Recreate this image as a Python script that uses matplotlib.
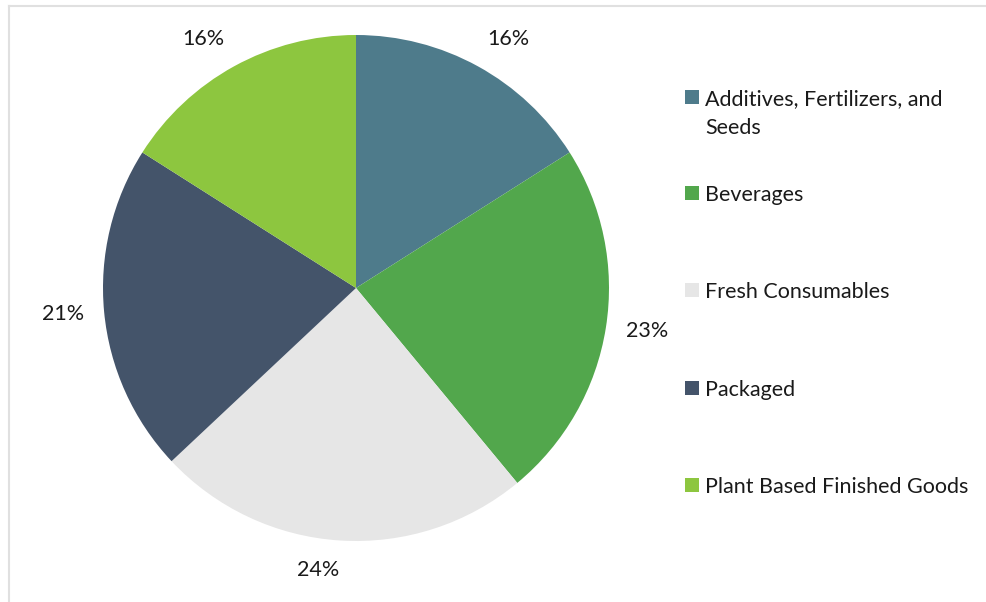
import numpy as np
import matplotlib.pyplot as plt
from matplotlib.patches import Rectangle
from matplotlib.lines import Line2D

categories = ['Additives, Fertilizers, and\nSeeds', 'Beverages', 'Fresh Consumables',
              'Packaged', 'Plant Based Finished Goods']
shares = [16, 23, 24, 21, 16]
colors = ['#4E7B8B', '#52A74C', '#E6E6E6', '#44546A', '#8DC63F']

plt.rcParams['font.family'] = ['Lato', 'DejaVu Sans']
FS = 15.5
TXT = '#1a1a1a'

fig = plt.figure(figsize=(9.87, 6.02), dpi=100)
W, H = 987, 602

# pie area: centre (356, 288), radius ~253 px
r = 253
ax = fig.add_axes([(356 - r) / W, 1 - (288 + r) / H, 2 * r / W, 2 * r / H])
wedges, _ = ax.pie(shares, colors=colors, startangle=90, counterclock=False, radius=1)
ax.set_xlim(-1, 1)
ax.set_ylim(-1, 1)
ax.set_aspect('equal')
ax.axis('off')

# percentage labels just outside the rim, box corner pointing at the slice
for w, v in zip(wedges, shares):
    th = np.deg2rad((w.theta1 + w.theta2) / 2)
    c, s = np.cos(th), np.sin(th)
    ha = 'left' if c > 0.02 else ('right' if c < -0.02 else 'center')
    if abs(s) < 0.3:
        va = 'center'
    else:
        va = 'bottom' if s > 0 else 'top'
    ax.annotate(f'{v}%', xy=(c, s), xytext=(20 * c, 20 * s), textcoords='offset pixels',
                ha=ha, va=va, fontsize=FS, color=TXT)

# chart frame
fig.add_artist(Line2D([9 / W, 9 / W], [0, 1 - 6 / H], color='#E0E0E0', lw=1.5))
fig.add_artist(Line2D([9 / W, 1], [1 - 6 / H, 1 - 6 / H], color='#E0E0E0', lw=1.5))

# legend drawn by hand, one entry per slice
legend_y = [97, 193, 290, 388, 485]
for name, col, y in zip(categories, colors, legend_y):
    fig.add_artist(Rectangle((685 / W, 1 - (y + 7) / H), 14 / W, 14 / H,
                             facecolor=col, edgecolor='none', transform=fig.transFigure))
    for i, line in enumerate(name.split('\n')):
        fig.text(705 / W, 1 - (y + 8 + 29 * i) / H, line, fontsize=FS, color=TXT,
                 va='baseline', ha='left')

fig.savefig('out.png', dpi=100)
